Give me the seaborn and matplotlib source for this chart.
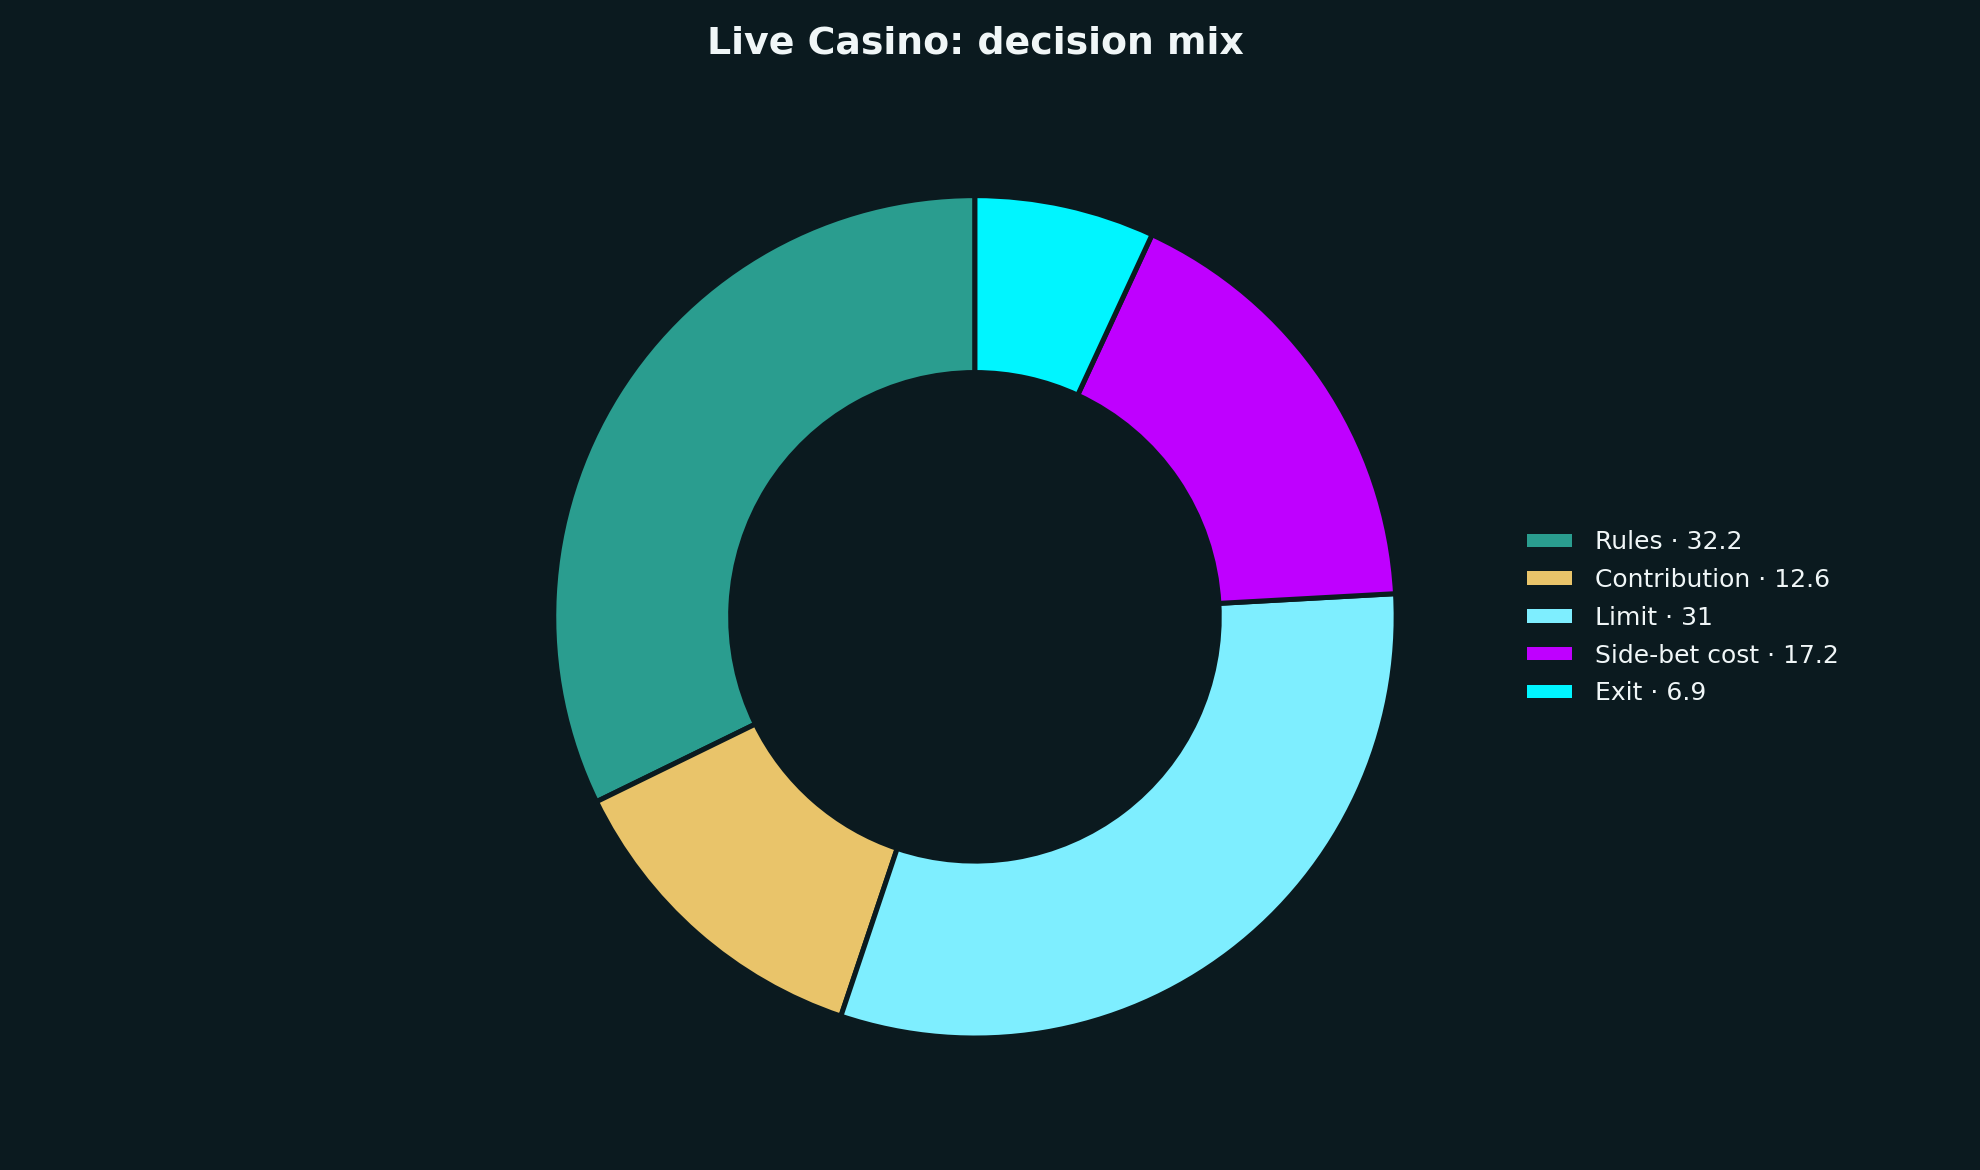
import matplotlib
matplotlib.use('Agg')
import matplotlib.pyplot as plt
import seaborn as sns

# decision mix values
labels = ['Rules', 'Contribution', 'Limit', 'Side-bet cost', 'Exit']
values = [32.2, 12.6, 31, 17.2, 6.9]
colors = ['#2a9d8f', '#e9c46a', '#7eeeff', '#bf00ff', '#00f5ff']

bg = '#0b1a1f'
sns.set_theme(style='dark', rc={'figure.facecolor': bg, 'axes.facecolor': bg,
                                'text.color': '#f0f6f7'})
plt.rcParams['font.family'] = ['DejaVu Sans']

fig = plt.figure(figsize=(13.2, 7.8), dpi=150)
ax = fig.add_axes([0.2265, 0.0228, 0.5318, 0.9])

palette = sns.color_palette(colors)
wedges, _ = ax.pie(values, colors=palette, startangle=90, counterclock=True,
                   wedgeprops={'width': 0.42, 'edgecolor': bg, 'linewidth': 2.4})
ax.set_aspect('equal')

fig.suptitle('Live Casino: decision mix', fontsize=18.2, fontweight='bold',
             color='#f0f6f7', x=0.4925, y=0.978)

leg_labels = [f"{l} \u00b7 {v:g}" for l, v in zip(labels, values)]
leg = fig.legend(wedges, leg_labels, loc='center left', bbox_to_anchor=(0.76, 0.472),
                 frameon=False, fontsize=12, handlelength=1.8, handleheight=0.45,
                 labelspacing=0.55, handletextpad=0.9)
for t in leg.get_texts():
    t.set_color('#f0f6f7')
for h in leg.legend_handles:
    h.set_edgecolor('none')

fig.savefig('out.png', dpi=150, facecolor=bg)
